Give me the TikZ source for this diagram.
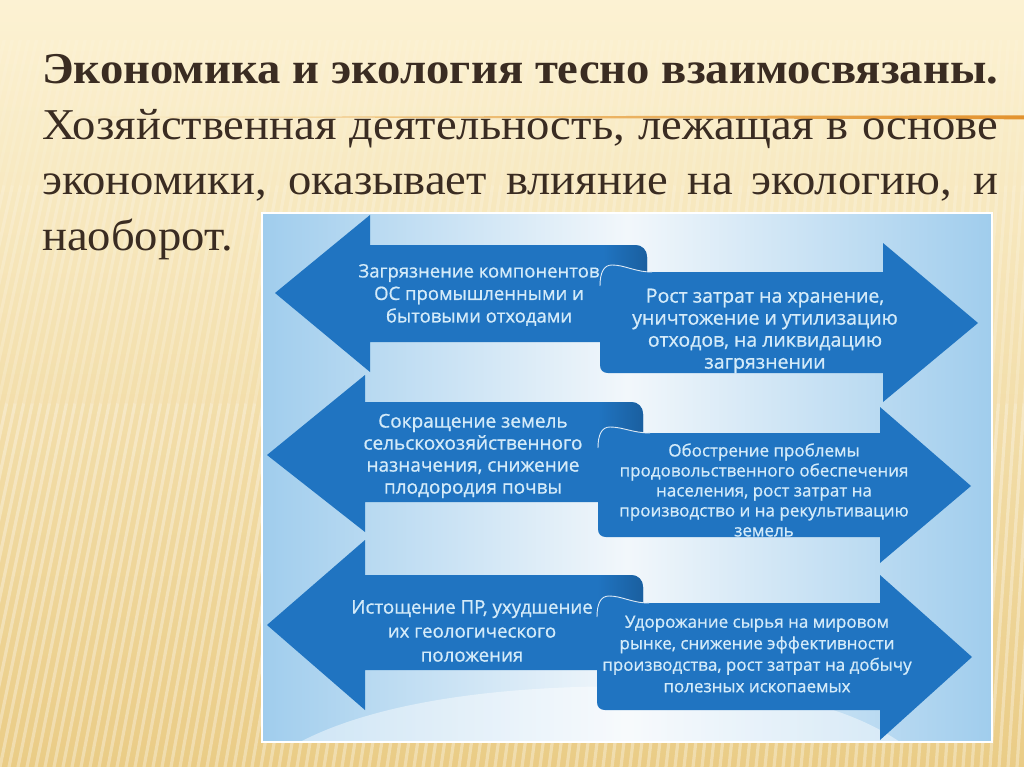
\documentclass[tikz,border=0pt]{standalone}
\usepackage{fontspec}
\setmainfont{Liberation Serif}[FakeStretch=1.06]
\newfontfamily\arrowfont{Open Sans}[FakeBold=0.8]
\usetikzlibrary{calc}
\definecolor{bgtop}{HTML}{FCF2D3}
\definecolor{bgbot}{HTML}{EACC86}
\definecolor{titlecol}{HTML}{3A2C22}
\definecolor{orangeline}{HTML}{E3932F}
\definecolor{orangefade}{HTML}{F5DDA8}
\definecolor{picblue}{HTML}{A0CDED}
\definecolor{picwhite}{HTML}{F2F7FB}
\definecolor{arrowblue}{HTML}{2074C1}
\definecolor{rolldark}{HTML}{1A5F9F}
\definecolor{txtblue}{HTML}{D4EBF9}
\begin{document}
\begin{tikzpicture}[x=1pt,y=-1pt,
  stripe/.style={white, line width=3.2pt},
  titletext/.style={text=titlecol, inner sep=0pt, anchor=base west, font=\fontsize{44}{52}\selectfont},
  arrowfill/.style={fill=arrowblue},
  curl/.style={draw=white, line width=0.9pt, opacity=0.85},
  atext/.style={text=txtblue, align=center, inner sep=0pt}]
\useasboundingbox (0,0) rectangle (1024,767);
% background
\shade[top color=bgtop, bottom color=bgbot] (0,0) rectangle (1024,767);
\begin{scope}
\clip (0,0) rectangle (1024,767);
\foreach \k in {-45,...,115} {
  \coordinate (sa) at (\k*9,767);
  \coordinate (sb) at (\k*9*0.9+150,40);
  \draw[stripe, opacity=0.32] (sa) -- ($(sa)!0.5!(sb)$);
  \draw[stripe, opacity=0.2] ($(sa)!0.5!(sb)$) -- ($(sa)!0.8!(sb)$);
  \draw[stripe, opacity=0.1] ($(sa)!0.8!(sb)$) -- (sb);
}
\end{scope}
% orange rule
\shade[left color=orangefade, right color=orangeline] (60,117) -- (1024,115.3) -- (1024,119.3) -- cycle;
% title
\node[titletext] (t1) at (42,84) {\bfseries\makebox[956pt][s]{Экономика и экология тесно взаимосвязаны.}};
\node[titletext] (t2) at (42,139.5) {\makebox[956pt][s]{Хозяйственная деятельность, лежащая в основе}};
\node[titletext] (t3) at (42,195) {\makebox[956pt][s]{экономики, оказывает влияние на экологию, и}};
\node[titletext] (t4) at (42,250) {наоборот.};
% inner picture
\shade[left color=picblue, right color=picblue, middle color=picwhite] (262,213) rectangle (992,742);
\fill[white, opacity=0.45] (300,742) .. controls (380,700) and (520,680) .. (700,688) .. controls (800,693) and (860,715) .. (900,742) -- cycle;
\draw[white, line width=1.5pt] (262,213) rectangle (992,742);
% ---- row 1
\fill[arrowfill] (275,293) -- (370,215) -- (370,245) -- (635,245) .. controls (642,245) and (647,250) .. (647,257) -- (647,342) -- (370,342) -- (370,372) -- cycle;
\shade[left color=arrowblue, right color=rolldark] (603,245) -- (635,245) .. controls (642,245) and (647,250) .. (647,257) -- (647,290) -- (603,290) -- cycle;
\node[atext, font=\arrowfont\fontsize{18.5}{22.5}\selectfont] (l1) at (479,295) {Загрязнение компонентов\\ОС промышленными и\\бытовыми отходами};
\fill[arrowfill] (600,284) .. controls (600,272) and (604,265) .. (612,265) .. controls (625,265) and (635,272) .. (652,272) -- (883,272) -- (883,243) -- (978,323) -- (883,402) -- (883,373) -- (608,373) .. controls (603,373) and (600,370) .. (600,365) -- cycle;
\draw[curl] (600,286) .. controls (600,272) and (604,265) .. (612,265) .. controls (625,265) and (635,272) .. (652,272);
\node[atext, font=\arrowfont\fontsize{19.5}{22}\selectfont] (r1) at (765,331) {Рост затрат на хранение,\\уничтожение и утилизацию\\отходов, на ликвидацию\\загрязнении};
% ---- row 2
\fill[arrowfill] (267,455) -- (365,375) -- (365,402) -- (631,402) .. controls (638,402) and (643,407) .. (643,414) -- (643,502) -- (365,502) -- (365,532) -- cycle;
\shade[left color=arrowblue, right color=rolldark] (598,402) -- (631,402) .. controls (638,402) and (643,407) .. (643,414) -- (643,450) -- (598,450) -- cycle;
\node[atext, font=\arrowfont\fontsize{19}{22}\selectfont] (l2) at (473,456) {Сокращение земель\\сельскохозяйственного\\назначения, снижение\\плодородия почвы};
\fill[arrowfill] (598,446) .. controls (598,434) and (602,427) .. (610,427) .. controls (623,427) and (633,433) .. (650,433) -- (880,433) -- (880,407) -- (971,486) -- (880,563) -- (880,537) -- (606,537) .. controls (601,537) and (598,534) .. (598,529) -- cycle;
\draw[curl] (598,448) .. controls (598,434) and (602,427) .. (610,427) .. controls (623,427) and (633,433) .. (650,433);
\node[atext, font=\arrowfont\fontsize{17}{20}\selectfont] (r2) at (764,490) {Обострение проблемы\\продовольственного обеспечения\\населения, рост затрат на\\производство и на рекультивацию\\земель};
% ---- row 3
\fill[arrowfill] (267,625) -- (365,540) -- (365,575) -- (631,575) .. controls (638,575) and (643,580) .. (643,587) -- (643,670) -- (365,670) -- (365,710) -- cycle;
\shade[left color=arrowblue, right color=rolldark] (597,575) -- (631,575) .. controls (638,575) and (643,580) .. (643,587) -- (643,620) -- (597,620) -- cycle;
\node[atext, font=\arrowfont\fontsize{18.7}{24}\selectfont] (l3) at (472,631) {Истощение ПР, ухудшение\\их геологического\\положения};
\fill[arrowfill] (597,615) .. controls (597,603) and (601,596) .. (609,596) .. controls (622,596) and (632,603) .. (649,603) -- (880,603) -- (880,575) -- (972,657) -- (880,740) -- (880,710) -- (605,710) .. controls (600,710) and (597,707) .. (597,702) -- cycle;
\draw[curl] (597,617) .. controls (597,603) and (601,596) .. (609,596) .. controls (622,596) and (632,603) .. (649,603);
\node[atext, font=\arrowfont\fontsize{17}{21.5}\selectfont] (r3) at (757,654) {Удорожание сырья на мировом\\рынке, снижение эффективности\\производства, рост затрат на добычу\\полезных ископаемых};
\end{tikzpicture}
\end{document}
